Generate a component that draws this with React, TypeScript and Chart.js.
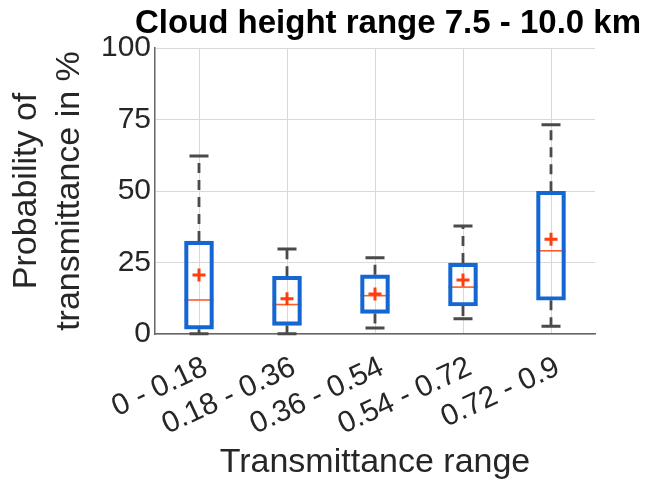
import React, { useEffect, useRef } from "react";
import { Chart, registerables } from "chart.js";

Chart.register(...registerables);

const categories = ["0 - 0.18", "0.18 - 0.36", "0.36 - 0.54", "0.54 - 0.72", "0.72 - 0.9"];
const whiskerLow = [0.1, 0.1, 2.1, 5.3, 2.7];
const q1 = [1.7, 3.0, 7.2, 9.8, 11.8];
const median = [11.9, 10.3, 13.4, 16.4, 29.1];
const q3 = [32.5, 20.2, 20.7, 24.8, 49.9];
const whiskerHigh = [62.2, 29.7, 26.7, 37.8, 73.2];
const mean = [20.6, 12.3, 14.0, 18.9, 33.1];
const yTicks = [0, 25, 50, 75, 100];

const titleText = "Cloud height range 7.5 - 10.0 km";
const xTitle = "Transmittance range";
const yTitle = ["Probability of", "transmittance in %"];

const FONT = "'Liberation Sans', Arial, sans-serif";
const BLUE = "#1466d2";
const RED = "#ff3d0f";
const WHISKER = "#4a4a4a";
const BOX_W = 29;

const boxPlugin = {
  id: "boxExtras",
  beforeDatasetsDraw(chart: any) {
    const { ctx, scales } = chart;
    const x = scales.x;
    const y = scales.y;
    ctx.save();
    categories.forEach((_, i) => {
      const cx = x.getPixelForValue(i);
      // whiskers (dashed)
      ctx.strokeStyle = WHISKER;
      ctx.lineWidth = 2.8;
      ctx.setLineDash([10, 7]);
      ctx.beginPath();
      ctx.moveTo(cx, y.getPixelForValue(q3[i]));
      ctx.lineTo(cx, y.getPixelForValue(whiskerHigh[i]));
      ctx.moveTo(cx, y.getPixelForValue(q1[i]));
      ctx.lineTo(cx, y.getPixelForValue(whiskerLow[i]));
      ctx.stroke();
      // caps
      ctx.setLineDash([]);
      ctx.lineWidth = 3;
      ctx.beginPath();
      const capHalf = 9.5;
      [whiskerHigh[i], whiskerLow[i]].forEach((v) => {
        const py = y.getPixelForValue(v);
        ctx.moveTo(cx - capHalf, py);
        ctx.lineTo(cx + capHalf, py);
      });
      ctx.stroke();
      // median
      ctx.strokeStyle = "#ff5a2a";
      ctx.lineWidth = 1.6;
      ctx.beginPath();
      const my = y.getPixelForValue(median[i]);
      ctx.moveTo(cx - BOX_W / 2, my);
      ctx.lineTo(cx + BOX_W / 2, my);
      ctx.stroke();
    });
    ctx.restore();
  },
  afterDraw(chart: any) {
    const { ctx, scales, chartArea } = chart;
    const x = scales.x;
    const y = scales.y;
    ctx.save();
    ctx.fillStyle = "#262626";
    // y tick labels
    ctx.font = `30px ${FONT}`;
    ctx.textAlign = "right";
    ctx.textBaseline = "middle";
    yTicks.forEach((t) => {
      ctx.fillText(String(t), chartArea.left - 4, y.getPixelForValue(t));
    });
    // x tick labels, rotated
    categories.forEach((c, i) => {
      const cx = x.getPixelForValue(i);
      ctx.save();
      ctx.translate(cx + 7, chartArea.bottom + 32);
      ctx.rotate((-25 * Math.PI) / 180);
      ctx.textAlign = "right";
      ctx.textBaseline = "middle";
      ctx.fillText(c, 0, 0);
      ctx.restore();
    });
    // x title
    ctx.font = `34px ${FONT}`;
    ctx.textAlign = "center";
    ctx.textBaseline = "alphabetic";
    ctx.fillText(xTitle, (chartArea.left + chartArea.right) / 2, 472);
    // y title
    const cy = (chartArea.top + chartArea.bottom) / 2;
    ctx.save();
    ctx.translate(27, cy);
    ctx.rotate(-Math.PI / 2);
    ctx.textAlign = "center";
    ctx.textBaseline = "middle";
    ctx.fillText(yTitle[0], 0, 0);
    ctx.fillText(yTitle[1], 0, 43);
    ctx.restore();
    // title
    ctx.fillStyle = "#000000";
    ctx.font = `bold 33px ${FONT}`;
    ctx.textAlign = "center";
    ctx.textBaseline = "alphabetic";
    ctx.fillText(titleText, 388, 33);
    ctx.restore();
  },
};

export default function App() {
  const ref = useRef<HTMLCanvasElement>(null);
  useEffect(() => {
    if (!ref.current) return;
    const chart = new Chart(ref.current, {
      type: "bar",
      data: {
        labels: categories,
        datasets: [
          {
            type: "bar",
            data: q1.map((v, i) => [v, q3[i]]) as any,
            backgroundColor: "rgba(0,0,0,0)",
            borderColor: BLUE,
            borderWidth: 3.5,
            borderSkipped: false,
            barThickness: BOX_W,
            order: 2,
          },
          {
            type: "line",
            data: mean,
            showLine: false,
            pointStyle: "cross",
            pointRadius: 6.5,
            pointBorderWidth: 3,
            pointBorderColor: RED,
            pointBackgroundColor: RED,
            borderColor: RED,
            order: 1,
          } as any,
        ],
      },
      options: {
        responsive: true,
        maintainAspectRatio: false,
        animation: false,
        layout: { padding: { left: 155, right: 65, top: 48, bottom: 151 } },
        plugins: { legend: { display: false }, tooltip: { enabled: false }, title: { display: false } },
        scales: {
          x: {
            type: "category",
            offset: true,
            grid: { color: "#d9d9d9", offset: false, drawTicks: false, lineWidth: 1 },
            border: { color: "#666666", width: 1.5 },
            ticks: { display: false },
            afterFit: (s: any) => { s.height = 0; },
          },
          y: {
            min: 0,
            max: 100,
            ticks: { display: false, stepSize: 25 },
            grid: { color: "#d9d9d9", drawTicks: false, lineWidth: 1 },
            border: { color: "#666666", width: 1.5 },
            afterFit: (s: any) => { s.width = 0; },
          },
        },
      },
      plugins: [boxPlugin],
    });
    return () => chart.destroy();
  }, []);
  return (
    <div style={{ position: "absolute", left: 0, top: 0, width: 660, height: 485, background: "#fff" }}>
      <canvas ref={ref} />
    </div>
  );
}
